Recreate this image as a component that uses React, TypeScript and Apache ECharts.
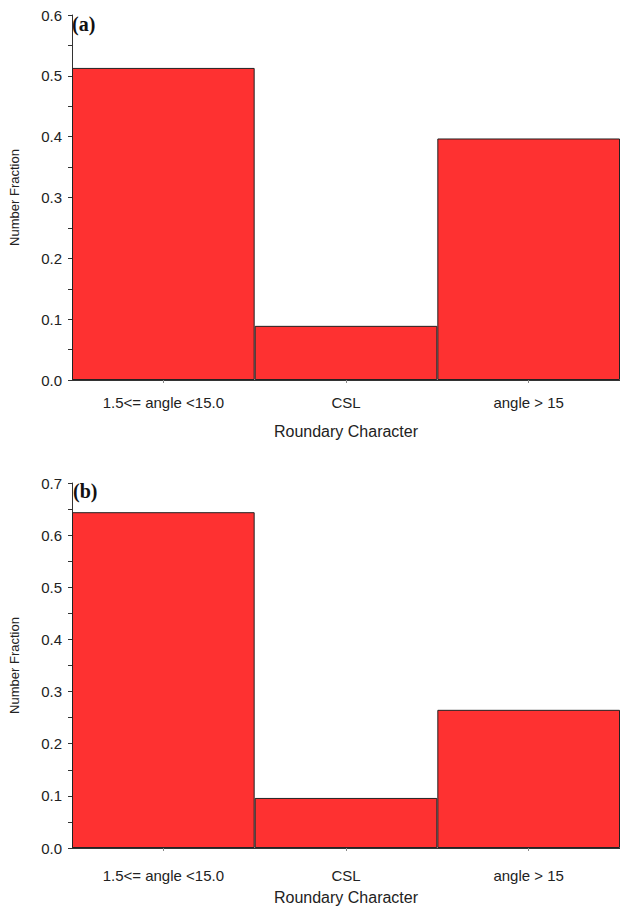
import React, { useEffect, useRef } from "react";
import * as echarts from "echarts";

const categories = ["1.5<= angle <15.0", "CSL", "angle > 15"];
const valuesA = [0.513, 0.089, 0.397];
const valuesB = [0.644, 0.096, 0.265];
const panelLabels = ["(a)", "(b)"];
const yMaxA = 0.6;
const yMaxB = 0.7;
const xAxisTitle = "Roundary Character";
const yAxisTitle = "Number Fraction";

const RED = "#fe3131";
const FONT = "Liberation Sans, Arial, sans-serif";

function makeX(gridIndex: number, labelMargin: number, nameGap: number) {
  return {
    type: "category",
    gridIndex,
    data: categories,
    boundaryGap: true,
    axisLine: { show: true, lineStyle: { color: "#333", width: 1 } },
    axisTick: { show: true, alignWithLabel: true, length: 3, lineStyle: { color: "#888" } },
    axisLabel: { color: "#222", fontSize: 15, fontFamily: FONT, margin: labelMargin },
    name: xAxisTitle,
    nameLocation: "middle",
    nameGap,
    nameTextStyle: { color: "#222", fontSize: 16, fontFamily: FONT },
  };
}

function makeY(gridIndex: number, max: number) {
  return {
    type: "value",
    gridIndex,
    min: 0,
    max,
    interval: 0.1,
    axisLine: { show: true, lineStyle: { color: "#333", width: 1 } },
    axisTick: { show: true, length: 4, lineStyle: { color: "#333" } },
    minorTick: { show: true, splitNumber: 2, length: 4, lineStyle: { color: "#333" } },
    splitLine: { show: false },
    axisLabel: {
      color: "#222",
      fontSize: 15,
      fontFamily: FONT,
      margin: 10,
      formatter: (v: number) => v.toFixed(1),
    },
    name: yAxisTitle,
    nameLocation: "middle",
    nameGap: 51,
    nameRotate: 90,
    nameTextStyle: { color: "#222", fontSize: 13, fontFamily: FONT },
  };
}

function makeBar(idx: number, data: number[]) {
  return {
    type: "bar",
    xAxisIndex: idx,
    yAxisIndex: idx,
    data,
    barCategoryGap: "0%",
    itemStyle: { color: RED, borderColor: "#222", borderWidth: 1 },
  };
}

export default function App() {
  const ref = useRef<HTMLDivElement>(null);
  useEffect(() => {
    document.body.style.margin = "0";
    const chart = echarts.init(ref.current!, null, { renderer: "svg" });
    chart.setOption({
      animation: false,
      backgroundColor: "#fff",
      grid: [
        { left: 67, top: 15, width: 555, height: 365 },
        { left: 70, top: 483, width: 555, height: 365 },
      ],
      xAxis: [makeX(0, 15, 43), makeX(1, 20, 41)],
      yAxis: [makeY(0, yMaxA), makeY(1, yMaxB)],
      series: [makeBar(0, valuesA), makeBar(1, valuesB)],
      graphic: [
        {
          type: "text",
          left: 72,
          top: 14,
          style: { text: panelLabels[0], font: "bold 20px 'Liberation Serif', 'Times New Roman', serif", fill: "#111" },
        },
        {
          type: "text",
          left: 73,
          top: 481,
          style: { text: panelLabels[1], font: "bold 20px 'Liberation Serif', 'Times New Roman', serif", fill: "#111" },
        },
      ],
    });
    return () => chart.dispose();
  }, []);
  return <div ref={ref} style={{ width: 620, height: 908 }} />;
}
